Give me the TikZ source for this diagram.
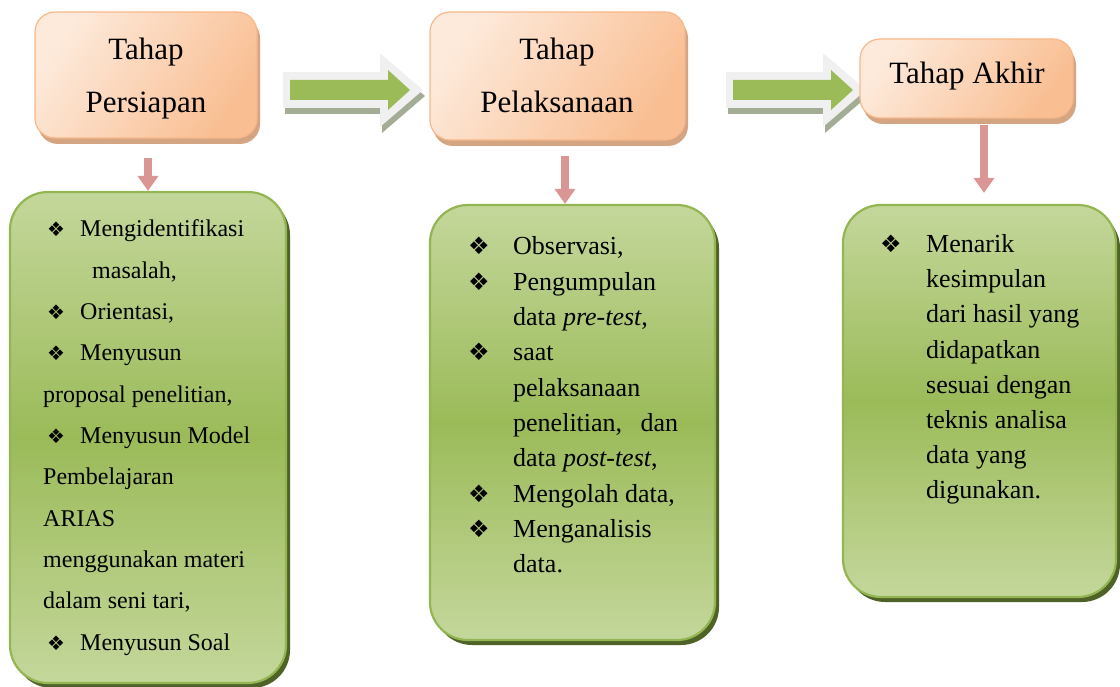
\documentclass[tikz,border=0pt]{standalone}
\usepackage{fontspec}
\setmainfont{Liberation Serif}
\newfontfamily\dingfont{DejaVu Sans}
\usetikzlibrary{arrows.meta,shadows}
\definecolor{orL}{HTML}{FDEADB}
\definecolor{orD}{HTML}{F9BE92}
\definecolor{orEdge}{HTML}{F8B88A}
\definecolor{orShadow}{HTML}{D4A582}
\definecolor{grL}{HTML}{C4D79B}
\definecolor{grM}{HTML}{9BBB59}
\definecolor{grEdge}{HTML}{93B552}
\definecolor{grShadow}{HTML}{4F6228}
\definecolor{pinkA}{HTML}{D99694}
\definecolor{arGrey}{HTML}{F0F0F0}
\definecolor{arShadow}{HTML}{A3AC95}
\newcommand\bulA{{\dingfont\fontsize{20}{20}\selectfont ❖}}
\newcommand\bulB{{\dingfont\fontsize{24}{24}\selectfont ❖}}
\begin{document}
\begin{tikzpicture}[x=1pt,y=-1pt,
  topbox/.style={rectangle, rounded corners=20pt, draw=orEdge, line width=1.2pt,
    left color=orL, right color=orD, shading angle=55,
    drop shadow={shadow xshift=3pt, shadow yshift=-6pt, fill=orShadow, opacity=1},
    inner sep=0},
  greenbox/.style={rectangle, rounded corners=38pt, draw=grEdge, line width=2.2pt,
    top color=grL, bottom color=grL, middle color=grM,
    drop shadow={shadow xshift=4pt, shadow yshift=-5pt, fill=grShadow, opacity=1},
    inner sep=0},
  toptxt/.style={anchor=base, inner sep=0, font=\fontsize{31}{37}\selectfont},
  lnA/.style={anchor=base west, inner sep=0, font=\fontsize{24}{29}\selectfont},
  lnB/.style={anchor=base west, inner sep=0, font=\fontsize{26}{31}\selectfont},
  pinkarr/.style={draw=pinkA, line width=8pt, -{Triangle[width=20pt,length=15pt]}},
  bigarrow/.pic={
    \fill[arShadow] (285,78) -- (382,78) -- (382,59) -- (425,96) -- (382,133) -- (382,114) -- (285,114) -- cycle;
    \fill[arGrey] (283,72) -- (380,72) -- (380,53) -- (423,90) -- (380,127) -- (380,108) -- (283,108) -- cycle;
    \fill[grM] (290,80) -- (388,80) -- (388,70) -- (410,90) -- (388,110) -- (388,100) -- (290,100) -- cycle;
  }]
\useasboundingbox (0,0) rectangle (1120,687);

% block arrows between stages
\pic (arr1) at (0,0) {bigarrow};
\pic (arr2) at (443,0) {bigarrow};

% top stage boxes
\node[topbox, minimum width=222pt, minimum height=126pt] (t1) at (146,75) {};
\node[topbox, minimum width=255pt, minimum height=128pt] (t2) at (557.5,76) {};
\node[topbox, minimum width=213pt, minimum height=79pt] (t3) at (966.5,78.5) {};

% green boxes
\node[greenbox, minimum width=276pt, minimum height=491pt] (g1) at (148,437.5) {};
\node[greenbox, minimum width=285pt, minimum height=435pt] (g2) at (572.5,422.5) {};
\node[greenbox, minimum width=273pt, minimum height=392pt] (g3) at (979.5,401) {};

% pink arrows
\draw[pinkarr] ([yshift=-19pt]t1.south -| g1.north) -- (g1.north);
\draw[pinkarr] ([xshift=-7.5pt,yshift=-15pt]t2.south -| g2.north) -- ([xshift=-7.5pt]g2.north);
\draw[pinkarr] ([xshift=4.5pt,yshift=-6pt]t3.south -| g3.north) -- ([xshift=4.5pt,yshift=11pt]g3.north);

% top texts
\node[toptxt] (t1a) at (146,60) {Tahap};
\node[toptxt] (t1b) at (146,113) {Persiapan};
\node[toptxt] (t2a) at (557,60) {Tahap};
\node[toptxt] (t2b) at (557,113) {Pelaksanaan};
\node[toptxt] (t3a) at (967,84) {Tahap Akhir};

% box 1 text
\node[lnA] (b1a) at (47,237) {\bulA};
\node[lnA] (a1) at (80,237) {Mengidentifikasi};
\node[lnA] (a2) at (92,278.3) {masalah,};
\node[lnA] (b1b) at (47,319.6) {\bulA};
\node[lnA] (a3) at (80,319.6) {Orientasi,};
\node[lnA] (b1c) at (47,360.9) {\bulA};
\node[lnA] (a4) at (80,360.9) {Menyusun};
\node[lnA] (a5) at (43,402.2) {proposal penelitian,};
\node[lnA] (b1d) at (47,443.5) {\bulA};
\node[lnA] (a6) at (80,443.5) {Menyusun Model};
\node[lnA] (a7) at (43,484.8) {Pembelajaran};
\node[lnA] (a8) at (43,526.1) {ARIAS};
\node[lnA] (a9) at (43,567.4) {menggunakan materi};
\node[lnA] (a10) at (43,608.7) {dalam seni tari,};
\node[lnA] (b1e) at (47,650) {\bulA};
\node[lnA] (a11) at (80,650) {Menyusun Soal};

% box 2 text
\node[lnB] (b2a) at (468,255) {\bulB};
\node[lnB] (c1) at (513,255) {Observasi,};
\node[lnB] (b2b) at (468,290.3) {\bulB};
\node[lnB] (c2) at (513,290.3) {Pengumpulan};
\node[lnB] (c3) at (513,325.6) {data \textit{pre-test},};
\node[lnB] (b2c) at (468,360.9) {\bulB};
\node[lnB] (c4) at (513,360.9) {saat};
\node[lnB] (c5) at (513,396.2) {pelaksanaan};
\node[lnB] (c6) at (513,431.5) {\hbox to 165pt{penelitian,\hfill dan}};
\node[lnB] (c7) at (513,466.8) {data \textit{post-test},};
\node[lnB] (b2d) at (468,502.1) {\bulB};
\node[lnB] (c8) at (513,502.1) {Mengolah data,};
\node[lnB] (b2e) at (468,537.4) {\bulB};
\node[lnB] (c9) at (513,537.4) {Menganalisis};
\node[lnB] (c10) at (513,572.7) {data.};

% box 3 text
\node[lnB] (b3a) at (880,253) {\bulB};
\node[lnB] (d1) at (926,253) {Menarik};
\node[lnB] (d2) at (926,288) {kesimpulan};
\node[lnB] (d3) at (926,323) {dari hasil yang};
\node[lnB] (d4) at (926,358) {didapatkan};
\node[lnB] (d5) at (926,393) {sesuai dengan};
\node[lnB] (d6) at (926,428) {teknis analisa};
\node[lnB] (d7) at (926,463) {data yang};
\node[lnB] (d8) at (926,498) {digunakan.};
\end{tikzpicture}
\end{document}
